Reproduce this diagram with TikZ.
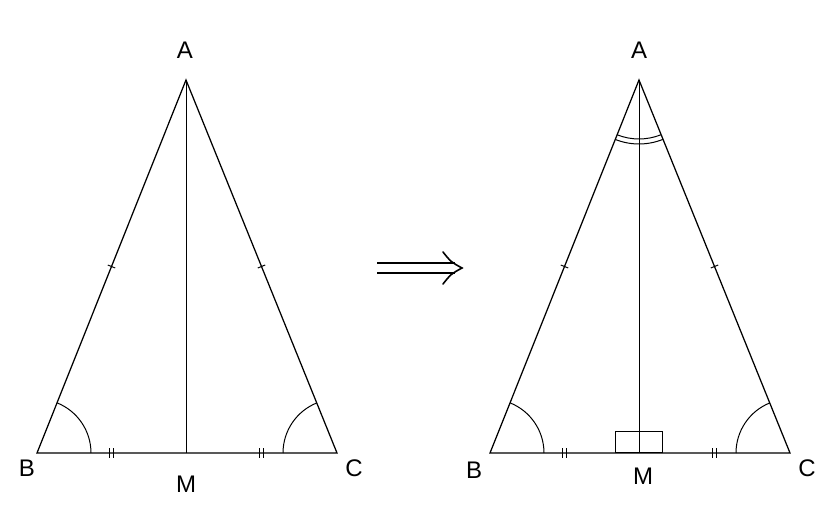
\documentclass[tikz,border=0pt]{standalone}
\usepackage{fontspec}
\setmainfont{Liberation Sans}
\usetikzlibrary{calc}
\begin{document}
\begin{tikzpicture}[x=1pt,y=1pt,
  edge/.style={line width=1.25pt, line join=miter},
  median/.style={line width=1pt},
  arrowln/.style={line width=1.6pt},
  tickln/.style={line width=1pt},
  anglearc/.style={line width=1pt},
  lbl/.style={font=\fontsize{24}{28}\selectfont, inner sep=0pt}]
\useasboundingbox[fill=white] (0,0) rectangle (840,516);
% ---------- left triangle ----------
\coordinate (A1) at (186,436);
\coordinate (B1) at (37,63);
\coordinate (C1) at (337,63);
\coordinate (M1) at (186,63);
\draw[edge] (A1) -- (B1) -- (C1) -- cycle;
\draw[median] (A1) -- (M1);
\coordinate (ab1) at ($(A1)!0.5!(B1)$);
\coordinate (ac1) at ($(A1)!0.5!(C1)$);
\coordinate (bm1) at ($(B1)!0.5!(M1)$);
\coordinate (mc1) at ($(M1)!0.5!(C1)$);
\draw[tickln] ($(ab1)!4pt!90:(A1)$) -- ($(ab1)!4pt!-90:(A1)$);
\draw[tickln] ($(ac1)!4pt!90:(A1)$) -- ($(ac1)!4pt!-90:(A1)$);
\foreach \p in {bm1,mc1}{
  \draw[tickln] ([xshift=-2pt,yshift=-5pt]\p) -- ([xshift=-2pt,yshift=5pt]\p);
  \draw[tickln] ([xshift=2pt,yshift=-5pt]\p) -- ([xshift=2pt,yshift=5pt]\p);
}
\draw[anglearc] ([xshift=54pt]B1) arc[start angle=0, end angle=68.2, radius=54];
\draw[anglearc] ([xshift=-54pt]C1) arc[start angle=180, end angle=111.8, radius=54];
\node[lbl] (lA1) at (185,466) {A};
\node[lbl] (lB1) at (27,48) {B};
\node[lbl] (lC1) at (354,48) {C};
\node[lbl] (lM1) at (186,31.5) {M};
% ---------- implication arrow ----------
\coordinate (s1) at (377,253);
\coordinate (s2) at (377,243);
\coordinate (e1) at (455,253);
\coordinate (e2) at (455,243);
\coordinate (tip) at (462,248);
\draw[arrowln] (s1) -- (e1);
\draw[arrowln] (s2) -- (e2);
\draw[arrowln, line cap=round] (443,264) .. controls (451,254) .. (tip) .. controls (451,242) .. (443,232);
% ---------- right triangle ----------
\coordinate (A2) at (639,436);
\coordinate (B2) at (490,63);
\coordinate (C2) at (790,63);
\coordinate (M2) at (639,63);
\draw[edge] (A2) -- (B2) -- (C2) -- cycle;
\draw[median] (A2) -- (M2);
\coordinate (ab2) at ($(A2)!0.5!(B2)$);
\coordinate (ac2) at ($(A2)!0.5!(C2)$);
\coordinate (bm2) at ($(B2)!0.5!(M2)$);
\coordinate (mc2) at ($(M2)!0.5!(C2)$);
\draw[tickln] ($(ab2)!4pt!90:(A2)$) -- ($(ab2)!4pt!-90:(A2)$);
\draw[tickln] ($(ac2)!4pt!90:(A2)$) -- ($(ac2)!4pt!-90:(A2)$);
\foreach \p in {bm2,mc2}{
  \draw[tickln] ([xshift=-2pt,yshift=-5pt]\p) -- ([xshift=-2pt,yshift=5pt]\p);
  \draw[tickln] ([xshift=2pt,yshift=-5pt]\p) -- ([xshift=2pt,yshift=5pt]\p);
}
\draw[anglearc] ([xshift=54pt]B2) arc[start angle=0, end angle=68.2, radius=54];
\draw[anglearc] ([xshift=-54pt]C2) arc[start angle=180, end angle=111.8, radius=54];
\draw[anglearc] ($(A2)+(248.2:59)$) arc[start angle=248.2, end angle=291.8, radius=59];
\draw[anglearc] ($(A2)+(248.2:64)$) arc[start angle=248.2, end angle=291.8, radius=64];
\draw[tickln] ([xshift=-23.5pt]M2) rectangle ([xshift=23.5pt,yshift=21pt]M2);
\node[lbl] (lA2) at (639,466) {A};
\node[lbl] (lB2) at (474,46) {B};
\node[lbl] (lC2) at (807,48) {C};
\node[lbl] (lM2) at (643,40) {M};
\end{tikzpicture}
\end{document}
